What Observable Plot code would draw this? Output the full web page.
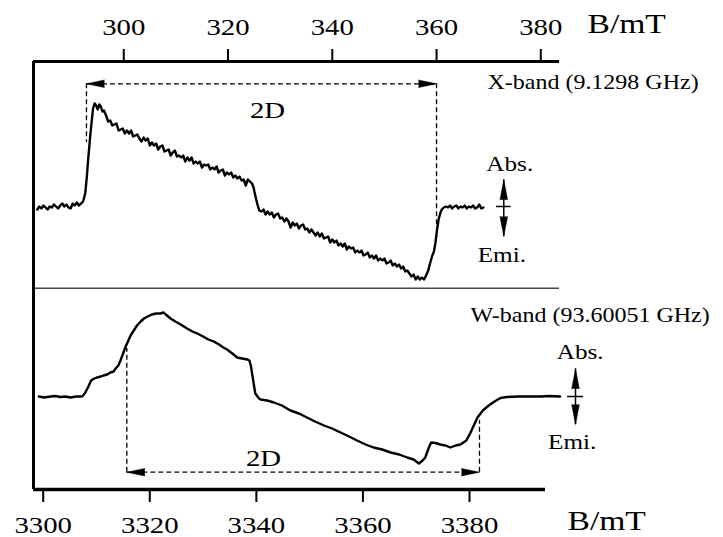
<!DOCTYPE html>
<html><head><meta charset="utf-8">
<script src="https://cdn.jsdelivr.net/npm/d3@7"></script>
<script src="https://cdn.jsdelivr.net/npm/@observablehq/plot@0.6"></script>
<style>
html,body{margin:0;padding:0;background:#fff;}
#chart{position:relative;width:723px;height:537px;overflow:hidden;background:#fff;}
#top,#bottom{position:absolute;left:0;}
#top{top:0;}
#bottom{top:290px;}
svg{overflow:visible;}
</style></head><body>
<div id="chart"><div id="top"></div><div id="bottom"></div></div>
<script>
// ---------- data ----------
const xbandTicks = [300, 320, 340, 360, 380];
const wbandTicks = [3300, 3320, 3340, 3360, 3380];
const xbandD = [292.84, 360.0];      // mT, ends of the 2D arrow (X-band)
const wbandD = [3315.69, 3381.87];   // mT, ends of the 2D arrow (W-band)
const xbandLabel = "X-band (9.1298 GHz)";
const wbandLabel = "W-band (93.60051 GHz)";
const unitLabel = "B/mT";
const dLabel = "2D";
const absLabel = "Abs.";
const emiLabel = "Emi.";

// X-band spectrum: [B (mT), signal (a.u.)]
const xbandSpectrum = [
[283.4,-2],[283.8,1],[284.2,-1],[284.6,2],[285.0,0],[285.4,-2],[285.8,1],[286.2,0],[286.6,3],[287.0,1],
[287.4,-1],[287.8,2],[288.2,4],[288.6,1],[289.0,3],[289.4,0],[289.8,-1],[290.2,4],[290.6,2],[291.0,5],
[291.4,2],[291.8,4],[292.2,6],
[292.6,14],[292.9,30],[293.2,50],[293.5,68],[293.8,84],[294.1,99],[294.4,104],[294.7,102],[295.0,98],
[295.3,103],[295.6,101],[295.9,96],[296.2,97],[296.6,92],
[297.0,86],[297.4,87],[297.8,82],[298.2,83],[298.6,84],[299.0,77],[299.4,78],[299.8,79],[300.2,74],
[300.6,77],[301.0,74],[301.4,77],[301.8,71],[302.2,72],[302.6,73],[303.0,69],[303.4,66],[303.8,70],
[304.2,67],[304.6,69],[305.0,62],[305.4,65],[305.8,62],[306.2,64],[306.6,58],[307.0,61],[307.4,62],
[307.8,56],[308.2,57],[308.6,58],[309.0,52],[309.4,55],[309.8,57],[310.2,51],[310.6,52],[311.0,50],
[311.4,52],[311.8,46],[312.2,50],[312.6,47],[313.0,50],[313.4,44],[313.8,46],[314.2,44],[314.6,46],
[315.0,40],[315.4,43],[315.8,42],[316.2,43],[316.6,38],[317.0,40],[317.4,38],[317.8,41],[318.2,35],
[318.6,37],[319.0,38],[319.4,32],[319.8,35],[320.2,33],[320.6,35],[321.0,30],[321.4,32],[321.8,29],
[322.2,31],[322.6,27],[323.0,28],[323.4,22],[323.8,28],[324.2,26],[324.6,24],
[324.9,20],[325.1,15],[325.4,8],[325.7,2],[326.0,-3],
[326.4,-4],[326.8,-2],[327.2,-7],[327.6,-4],[328.0,-7],[328.4,-5],[328.8,-10],[329.2,-7],[329.6,-6],
[330.0,-11],[330.4,-10],[330.8,-14],[331.2,-11],[331.6,-14],[332.0,-20],[332.4,-15],[332.8,-18],
[333.2,-16],[333.6,-21],[334.0,-18],[334.4,-17],[334.8,-22],[335.2,-21],[335.6,-25],[336.0,-22],
[336.4,-25],[336.8,-28],[337.2,-25],[337.6,-29],[338.0,-26],[338.4,-31],[338.8,-30],[339.2,-29],
[339.6,-35],[340.0,-32],[340.4,-35],[340.8,-33],[341.2,-38],[341.6,-36],[342.0,-39],[342.4,-36],
[342.8,-42],[343.2,-39],[343.6,-41],[344.0,-40],[344.4,-45],[344.8,-43],[345.2,-45],[345.6,-43],
[346.0,-48],[346.4,-47],[346.8,-45],[347.2,-50],[347.6,-48],[348.0,-51],[348.4,-48],[348.8,-53],
[349.2,-51],[349.6,-53],[350.0,-51],[350.4,-56],[350.8,-55],[351.2,-53],[351.6,-58],[352.0,-56],
[352.4,-59],[352.8,-57],[353.2,-61],[353.6,-59],[354.0,-64],[354.4,-63],[354.8,-66],[355.2,-69],
[355.6,-67],[356.0,-72],[356.4,-69],[356.8,-72],[357.2,-70],[357.6,-72],
[358.0,-68],[358.4,-63],[358.8,-55],[359.2,-48],[359.5,-44],[359.8,-35],[360.1,-22],[360.4,-12],
[360.7,-6],[361.0,-2],
[361.4,0],[361.8,1],[362.2,0],[362.6,2],[363.0,-1],[363.4,1],[363.8,2],[364.2,-1],[364.6,1],[365.0,0],
[365.4,2],[365.8,-1],[366.2,1],[366.6,0],[367.0,2],[367.4,-1],[367.8,0],[368.2,3],[368.6,-1],[369.0,0]
];

// W-band spectrum: [B (mT), signal (a.u.)]
const wbandSpectrum = [
[3299.2,0],[3300.2,-1],[3301.4,0],[3302.3,0.5],[3303.2,-0.5],[3304.2,0],[3305.1,-1],[3306.2,0],[3307.3,0],
[3307.8,3],[3308.3,8],[3309.0,16],[3309.6,18],[3310.1,19],[3310.8,20],[3311.3,21],[3312.0,22],[3312.6,24],
[3313.2,25],[3313.6,28],[3314.1,31],[3314.5,36],[3315.0,43],[3315.4,49],[3315.9,55],[3316.4,61],[3317.0,66],
[3317.6,71],[3318.3,75],[3318.9,78],[3319.6,80],[3320.4,82],[3321.2,83],[3322.0,83],[3322.6,84],[3323.0,82],
[3323.9,78],[3324.8,75],[3325.8,72],[3327.0,68],[3328.0,65],[3328.9,63],[3330.0,60],[3331.0,57],[3332.0,55],
[3333.0,52],[3333.8,49],[3334.5,47],[3335.5,43],[3336.4,39],[3337.3,38],[3338.3,37],[3338.7,36],[3339.0,30],
[3339.2,23],[3339.5,13],[3339.8,3],[3340.5,-2],[3340.8,-3],[3342.0,-4],[3343.3,-6],[3344.8,-9],[3346.4,-14],
[3348.0,-17],[3349.5,-21],[3351.0,-25],[3352.7,-29],[3354.2,-32],[3355.8,-36],[3357.4,-40],[3358.9,-44],
[3360.5,-48],[3362.0,-51],[3363.6,-53],[3365.2,-56],[3366.8,-58],[3368.3,-61],[3369.5,-63],[3370.5,-67],
[3371.2,-64],[3371.7,-61],[3372.3,-52],[3372.8,-46],[3373.6,-46.5],[3374.5,-48],[3375.5,-49],[3376.4,-51],
[3377.4,-49],[3378.3,-48],[3379.4,-44],[3380.2,-36],[3380.8,-29],[3381.5,-21],[3382.5,-14],[3383.6,-9],
[3384.7,-5],[3385.8,-1.5],[3387.0,-0.5],[3389.0,0],[3391.0,0],[3393.3,0],[3395.0,0.5],[3397.0,0]
];

// ---------- drawing ----------
const FONT = "'Liberation Serif', 'Times New Roman', serif";
const dash = "5,3";

const topDomX = [282.68, 383.59];
const topDomY = [-83, 146];
const topPlot = Plot.plot({
  width: 723, height: 290,
  marginLeft: 33, marginRight: 164, marginTop: 61, marginBottom: 0,
  x: {domain: topDomX},
  y: {domain: topDomY, axis: null},
  style: {fontFamily: FONT, fontSize: "24px", background: "transparent", color: "black"},
  marks: [
    Plot.ruleY([topDomY[1]], {stroke: "black", strokeWidth: 3}),
    Plot.ruleY([-80.7], {stroke: "#444", strokeWidth: 1.5}),
    Plot.ruleX([topDomX[0]], {stroke: "black", strokeWidth: 3}),
    Plot.axisX(xbandTicks, {anchor: "top", tickSize: 13, tickPadding: 14, strokeWidth: 2, fontSize: 24, label: null, tickFormat: "d"}),
    // 2D arrow
    Plot.ruleY([123.7], {x1: xbandD[0], x2: xbandD[1], stroke: "black", strokeWidth: 1.3, strokeDasharray: dash}),
    Plot.ruleX([{x: xbandD[0], y2: 65}, {x: xbandD[1], y2: -18}], {x: "x", y1: 123.7, y2: "y2", stroke: "black", strokeWidth: 1.3, strokeDasharray: dash}),
    Plot.vector([{x: xbandD[0], r: -90}, {x: xbandD[1], r: 90}], {x: "x", y: 123.7, rotate: "r", length: 18, r: 3.8, shape: "spike", anchor: "end", fill: "black", stroke: "black", strokeWidth: 0.5}),
    // spectrum
    Plot.line(xbandSpectrum, {x: d => d[0], y: d => d[1], stroke: "black", strokeWidth: 2.4, strokeLinejoin: "round"}),
    // Abs/Emi arrow
    Plot.ruleX([372.9], {y1: 27.7, y2: -29, stroke: "black", strokeWidth: 1.5}),
    Plot.ruleY([1], {x1: 371.5, x2: 374.3, stroke: "black", strokeWidth: 1.5}),
    Plot.vector([{y: 27.7, r: 0}, {y: -29, r: 180}], {x: 372.9, y: "y", rotate: "r", length: 20, r: 3.8, shape: "spike", anchor: "end", fill: "black", stroke: "black", strokeWidth: 0.5}),
    // texts
    Plot.text([dLabel], {x: 327.57, y: 90, text: d => d, fontSize: 24, lineAnchor: "bottom"}),
    Plot.text([xbandLabel], {x: 369.77, y: 119, text: d => d, fontSize: 20, textAnchor: "start", lineAnchor: "bottom"}),
    Plot.text([absLabel], {x: 374.05, y: 37, text: d => d, fontSize: 21, lineAnchor: "bottom"}),
    Plot.text([emiLabel], {x: 372.52, y: -54, text: d => d, fontSize: 21, lineAnchor: "bottom"}),
    Plot.text([unitLabel], {x: 388.96, y: 175, text: d => d, fontSize: 28, textAnchor: "start", lineAnchor: "bottom"})
  ]
});

const botDomX = [3298.18, 3394.26];
const botDomY = [-93, 106];
const botPlot = Plot.plot({
  width: 723, height: 247,
  marginLeft: 33, marginRight: 178, marginTop: 0, marginBottom: 48,
  x: {domain: botDomX},
  y: {domain: botDomY, axis: null},
  style: {fontFamily: FONT, fontSize: "24px", background: "transparent", color: "black"},
  marks: [
    Plot.ruleY([botDomY[0]], {stroke: "black", strokeWidth: 3.5}),
    Plot.ruleX([botDomX[0]], {stroke: "black", strokeWidth: 3}),
    Plot.axisX(wbandTicks, {anchor: "bottom", tickSize: 13, tickPadding: 13, strokeWidth: 2, fontSize: 24, label: null, tickFormat: "d"}),
    // 2D arrow
    Plot.ruleY([-75.7], {x1: wbandD[0], x2: wbandD[1], stroke: "black", strokeWidth: 1.3, strokeDasharray: dash}),
    Plot.ruleX([{x: wbandD[0], y2: 48}, {x: wbandD[1], y2: -24}], {x: "x", y1: -75.7, y2: "y2", stroke: "black", strokeWidth: 1.3, strokeDasharray: dash}),
    Plot.vector([{x: wbandD[0], r: -90}, {x: wbandD[1], r: 90}], {x: "x", y: -75.7, rotate: "r", length: 18, r: 3.8, shape: "spike", anchor: "end", fill: "black", stroke: "black", strokeWidth: 0.5}),
    // spectrum
    Plot.line(wbandSpectrum, {x: d => d[0], y: d => d[1], stroke: "black", strokeWidth: 2.4, strokeLinejoin: "round"}),
    // Abs/Emi arrow
    Plot.ruleX([3399.89], {y1: 27.7, y2: -28, stroke: "black", strokeWidth: 1.5}),
    Plot.ruleY([0], {x1: 3398.4, x2: 3401.4, stroke: "black", strokeWidth: 1.5}),
    Plot.vector([{y: 27.7, r: 0}, {y: -28, r: 180}], {x: 3399.89, y: "y", rotate: "r", length: 20, r: 3.8, shape: "spike", anchor: "end", fill: "black", stroke: "black", strokeWidth: 0.5}),
    // texts
    Plot.text([dLabel], {x: 3341.34, y: -69, text: d => d, fontSize: 24, lineAnchor: "bottom"}),
    Plot.text([wbandLabel], {x: 3380.19, y: 74.3, text: d => d, fontSize: 20, textAnchor: "start", lineAnchor: "bottom"}),
    Plot.text([absLabel], {x: 3400.77, y: 37.7, text: d => d, fontSize: 21, lineAnchor: "bottom"}),
    Plot.text([emiLabel], {x: 3399.27, y: -52.3, text: d => d, fontSize: 21, lineAnchor: "bottom"}),
    Plot.text([unitLabel], {x: 3398.39, y: -133, text: d => d, fontSize: 28, textAnchor: "start", lineAnchor: "bottom"})
  ]
});

document.getElementById("top").appendChild(topPlot);
document.getElementById("bottom").appendChild(botPlot);

// the reference typeface is set slightly wide: stretch text horizontally about its anchor
const STRETCH = 1.2;
d3.selectAll("#chart svg text").each(function() {
  const el = d3.select(this);
  const x = +(el.attr("x") || 0);
  const t = el.attr("transform") || "";
  el.attr("transform", `${t} translate(${x},0) scale(${STRETCH},1) translate(${-x},0)`);
});
</script>
</body></html>
